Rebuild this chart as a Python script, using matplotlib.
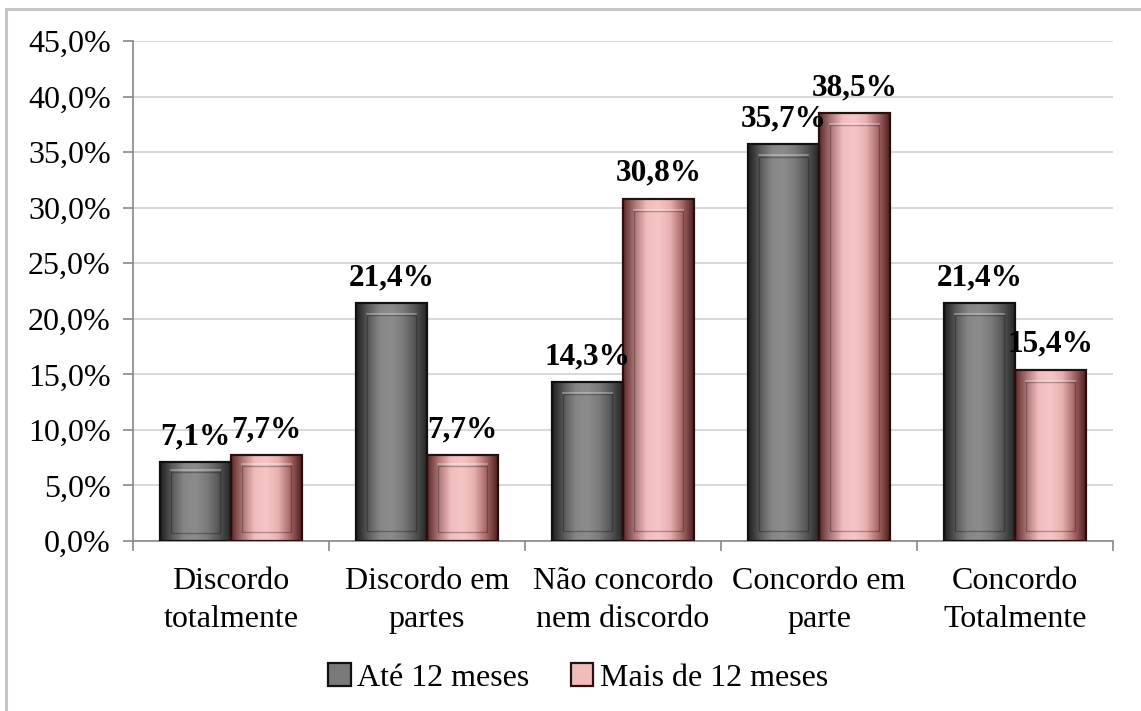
import numpy as np
import matplotlib
matplotlib.use("Agg")
import matplotlib.pyplot as plt
from matplotlib.patches import Rectangle
from matplotlib.colors import LinearSegmentedColormap

categories = ["Discordo\ntotalmente", "Discordo em\npartes", "Não concordo\nnem discordo",
              "Concordo em\nparte", "Concordo\nTotalmente"]
series_names = ["Até 12 meses", "Mais de 12 meses"]
ate_12 = [7.1, 21.4, 14.3, 35.7, 21.4]
mais_12 = [7.7, 7.7, 30.8, 38.5, 15.4]
y_ticks = [0, 5, 10, 15, 20, 25, 30, 35, 40, 45]

plt.rcParams["font.family"] = ["Liberation Serif", "DejaVu Serif"]

fig = plt.figure(figsize=(11.41, 7.11), dpi=100)
ax = fig.add_axes([133 / 1141, 170 / 711, 980 / 1141, 500 / 711])

# outer chart frame
fig.patches.append(Rectangle((6 / 1141, -0.05), 1.2, 1 - 9 / 711 + 0.05, transform=fig.transFigure,
                             fill=False, edgecolor="#c4c4c4", linewidth=2.2, zorder=0))

gray_cmap = LinearSegmentedColormap.from_list(
    "g", ["#1e1e1e", "#5a5a5a", "#858585", "#8c8c8c", "#7a7a7a", "#555555", "#262626"])
pink_cmap = LinearSegmentedColormap.from_list(
    "p", ["#5a2828", "#b07878", "#f0bcbc", "#f6c6c6", "#e8b0b0", "#a86868", "#4e2020"])

width = 0.362
x = np.arange(len(categories))
grad = np.linspace(0, 1, 256).reshape(1, -1)


def draw_series(values, offset, cmap, edge):
    bars = ax.bar(x + offset, values, width, facecolor="none", edgecolor=edge,
                  linewidth=1.6, zorder=4)
    for b in bars:
        x0, y0 = b.get_x(), b.get_y()
        w, h = b.get_width(), b.get_height()
        ax.imshow(grad, cmap=cmap, aspect="auto", extent=(x0, x0 + w, y0, y0 + h),
                  zorder=3, interpolation="bicubic")
        # inner bevel panel
        ix = w * 0.16
        top_in = min(1.1, h * 0.12)
        bot_in = min(0.9, h * 0.1)
        ax.add_patch(Rectangle((x0 + ix, y0 + bot_in), w - 2 * ix, h - top_in - bot_in,
                               fill=False, edgecolor=(0, 0, 0, 0.28), linewidth=1.0, zorder=5))
        ax.plot([x0 + ix, x0 + w - ix], [y0 + h - top_in + 0.12] * 2,
                color=(1, 1, 1, 0.35), linewidth=1.2, zorder=5)
        label = f"{b.get_height():.1f}".replace(".", ",") + "%"
        ax.annotate(label, (x0 + w / 2, y0 + h), xytext=(0, 8), textcoords="offset points",
                    ha="center", va="bottom", fontsize=22.5, fontweight="bold", zorder=6)
    return bars


draw_series(ate_12, -width / 2, gray_cmap, "#111111")
draw_series(mais_12, width / 2, pink_cmap, "#2a0f0f")

ax.set_xlim(-0.5, len(categories) - 0.5)
ax.set_ylim(0, 45)
ax.set_yticks(y_ticks)
ax.set_yticklabels([f"{v:.1f}".replace(".", ",") + "%" for v in y_ticks], fontsize=23)
ax.set_xticks(x)
ax.set_xticklabels(categories, fontsize=23, linespacing=1.38)
ax.set_xticks(np.arange(-0.5, len(categories), 1), minor=True)
ax.tick_params(axis="x", which="major", length=0, pad=19)
ax.tick_params(axis="x", which="minor", length=7, color="#888888", width=1.2)
ax.tick_params(axis="y", length=7, color="#888888", width=1.2, pad=9)

ax.grid(axis="y", color="#d2d2d2", linewidth=1.2, zorder=0)
ax.set_axisbelow(True)
for s in ["top", "right"]:
    ax.spines[s].set_visible(False)
for s in ["left", "bottom"]:
    ax.spines[s].set_color("#888888")
    ax.spines[s].set_linewidth(1.2)

handles = [Rectangle((0, 0), 1, 1, facecolor="#7a7a7a", edgecolor="#111111", linewidth=1.6),
           Rectangle((0, 0), 1, 1, facecolor="#f0bcbc", edgecolor="#2a0f0f", linewidth=1.6)]
fig.legend(handles, series_names, loc="center", bbox_to_anchor=(578 / 1141, 1 - 678 / 711),
           ncol=2, frameon=False, fontsize=23, handlelength=0.7, handleheight=0.7,
           handletextpad=0.2, columnspacing=1.3)

fig.savefig("out.png", dpi=100, facecolor="white")
